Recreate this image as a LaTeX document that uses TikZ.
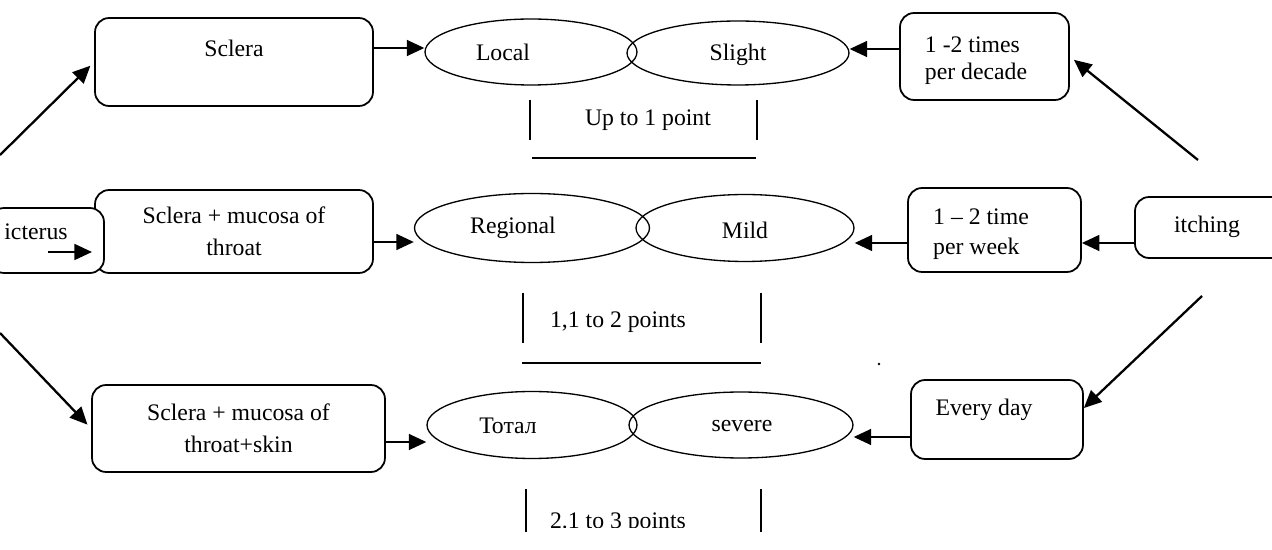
\documentclass[tikz,border=0pt]{standalone}
\usepackage{fontspec}
\setmainfont{Liberation Serif}
\usetikzlibrary{shapes.geometric,arrows.meta}

\begin{document}
\begin{tikzpicture}[x={(0.02cm,0)}, y={(0,-0.02cm)},
    font=\fontsize{13.5}{18}\selectfont,
    box/.style={draw, line width=1pt, rounded corners=8pt, fill=white, inner sep=0pt},
    ell/.style={draw, ellipse, line width=0.75pt, inner sep=0pt},
    arr/.style={line width=1.3pt, -{Triangle[length=10pt,width=9pt]}},
    bar/.style={line width=0.9pt}]
    \useasboundingbox (0,0) rectangle (1272,550);
    \node[box, minimum width=5.56cm, minimum height=1.76cm] (scl) at (234,62) {};
    \node (tscl) at (234,48) {Sclera};
    \node[box, minimum width=5.56cm, minimum height=1.66cm, align=center] (thr) at (234,231.5) {Sclera + mucosa of\\throat};
    \node[box, minimum width=2.28cm, minimum height=1.3cm] (ict) at (47,240.5) {};
    \node (tict) at (36,232) {icterus};
    \node[box, minimum width=5.86cm, minimum height=1.74cm, align=center] (skn) at (238.5,428.5) {Sclera + mucosa of\\throat+skin};
    \node[ell, minimum width=4.24cm, minimum height=1.32cm] (loc) at (531,52) {};
    \node[ell, minimum width=4.44cm, minimum height=1.28cm] (sli) at (738,53) {};
    \node[ell, minimum width=4.7cm, minimum height=1.38cm] (reg) at (532,228) {};
    \node[ell, minimum width=4.36cm, minimum height=1.34cm] (mil) at (745,228) {};
    \node[ell, minimum width=4.2cm, minimum height=1.34cm] (tot) at (532,425) {};
    \node[ell, minimum width=4.48cm, minimum height=1.32cm] (sev) at (741,425) {};
    \node (tloc) at (503,52) {Local};
    \node (tsli) at (738,55) {Slight};
    \node (treg) at (513,228) {Regional};
    \node (tmil) at (745,230) {Mild};
    \node (ttot) at (508,426) {Тотал};
    \node (tsev) at (742,426) {severe};
    \node[box, minimum width=3.38cm, minimum height=1.74cm] (tms) at (984.5,56.5) {};
    \node[align=left] (ttms) at (976,61) {1 -2 times\\[-2.5pt]per decade};
    \node[box, minimum width=3.46cm, minimum height=1.68cm] (wk) at (994.5,230) {};
    \node[align=left] (twk) at (981,234) {1 – 2 time\\[-1pt]per week};
    \node[box, minimum width=3cm, minimum height=1.22cm] (itc) at (1210,227.5) {};
    \node (titc) at (1207,227) {itching};
    \node[box, minimum width=3.44cm, minimum height=1.58cm] (day) at (997,419.5) {};
    \node (tday) at (984,410) {Every day};
    \coordinate (p1) at (0,155);
    \coordinate (p2) at (0,333);
    \coordinate (p3) at (1198,160);
    \coordinate (p4) at (1202,296);
    \coordinate (i1) at (48,252);
    \coordinate (i2) at (92,252);
    \draw[arr] (i1) -- (i2);
    \draw[arr, shorten >=3pt] (p1) -- (scl.west);
    \draw[arr, shorten >=3pt] (p2) -- (skn.west);
    \draw[arr, shorten >=3pt] (p3) -- (tms.east);
    \draw[arr] (p4) -- ([yshift=0.23cm]day.east);
    \draw[arr] ([yshift=0.28cm]scl.east) -- ([yshift=0.28cm]scl.east -| loc.west);
    \draw[arr] ([yshift=-0.21cm]thr.east) -- ([yshift=-0.21cm]thr.east -| reg.west);
    \draw[arr] ([yshift=-0.27cm]skn.east) -- ([yshift=-0.27cm]skn.east -| tot.west);
    \draw[arr] ([yshift=0.15cm]tms.west) -- ([yshift=0.15cm]tms.west -| sli.east);
    \draw[arr] ([yshift=-0.26cm]wk.west) -- ([yshift=-0.26cm]wk.west -| mil.east);
    \draw[arr] ([yshift=-0.31cm]itc.west) -- ([yshift=-0.31cm]itc.west -| wk.east);
    \draw[arr] ([yshift=-0.35cm]day.west) -- ([yshift=-0.35cm]day.west -| sev.east);
    \node (sc1) at (648,120) {Up to 1 point};
    \draw[bar] (530,100) -- (530,140) (757,100) -- (757,140) (532,158) -- (756,158);
    \node (sc2) at (618,322) {1,1 to 2 points};
    \draw[bar] (523,293) -- (523,343) (761,293) -- (761,343) (522,363) -- (761,363);
    \begin{scope}
        \clip (0,0) rectangle (1272,528);
        \node[anchor=base] (sc3) at (618,529) {2.1 to 3 points};
    \end{scope}
    \draw[bar] (526,489) -- (526,532) (761,489) -- (761,532);
    \fill (879,364) circle (0.8pt);
\end{tikzpicture}
\end{document}
